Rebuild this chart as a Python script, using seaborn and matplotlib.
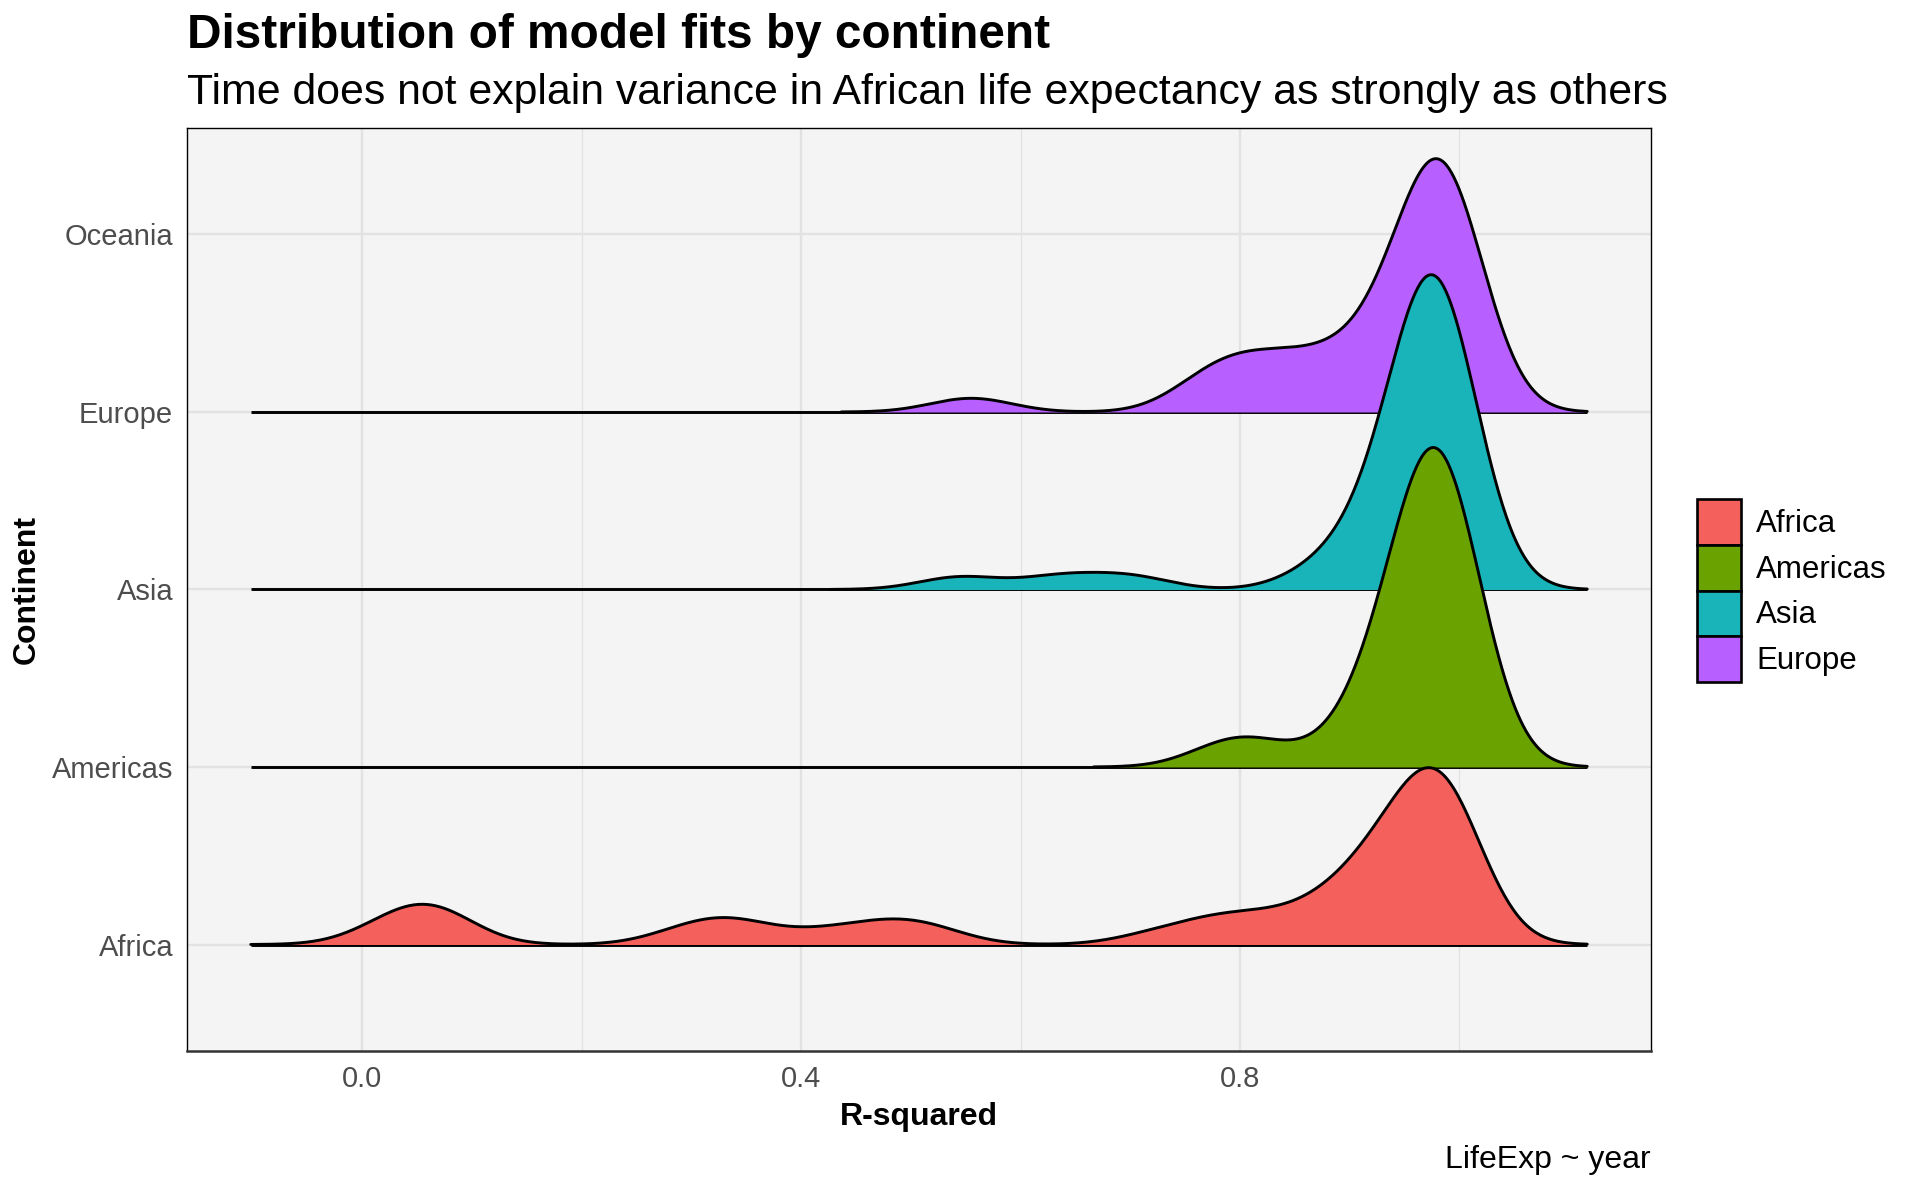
import numpy as np
import pandas as pd
import matplotlib
matplotlib.use("Agg")
import matplotlib.pyplot as plt
from matplotlib.patches import Patch
import seaborn as sns

### 0. Data: R-squared of lifeExp ~ year, one value per country

africa = [0.017, 0.034, 0.056, 0.060, 0.068, 0.085,
          0.290, 0.315, 0.340, 0.350, 0.410, 0.450, 0.480, 0.500, 0.525,
          0.720, 0.760, 0.780, 0.800, 0.820, 0.845, 0.865, 0.880, 0.895, 0.905, 0.910, 0.920,
          0.925, 0.928, 0.935, 0.945, 0.950, 0.955, 0.960, 0.963, 0.966,
          0.972, 0.975, 0.977, 0.979, 0.981, 0.983, 0.985, 0.987, 0.989, 0.991,
          0.993, 0.994, 0.995, 0.996, 0.997, 0.998]
americas = [0.785, 0.820,
            0.900, 0.920, 0.935, 0.945, 0.952, 0.958, 0.963, 0.967, 0.970, 0.973,
            0.976, 0.978, 0.980, 0.982, 0.984, 0.986, 0.988, 0.990, 0.992, 0.994,
            0.995, 0.997, 0.998]
asia = [0.545, 0.636, 0.700, 0.870, 0.900,
        0.915, 0.930, 0.942, 0.950, 0.955, 0.960, 0.966, 0.968, 0.970, 0.971,
        0.972, 0.973, 0.974, 0.975, 0.976, 0.977, 0.978, 0.979, 0.980, 0.982,
        0.984, 0.986, 0.988, 0.990, 0.992, 0.994, 0.996, 0.998]
europe = [0.555,
          0.765, 0.780, 0.800, 0.820, 0.840, 0.860, 0.880, 0.900, 0.920,
          0.930, 0.945, 0.955, 0.962, 0.968, 0.972, 0.975, 0.978, 0.980, 0.982,
          0.984, 0.986, 0.988, 0.990, 0.992, 0.993, 0.994, 0.995, 0.997, 0.998]

continents = ["Africa", "Americas", "Asia", "Europe", "Oceania"]   # y axis levels
ridge_names = ["Africa", "Americas", "Asia", "Europe"]              # Oceania has no ridge
ridge_colours = ["#F4605C", "#6AA300", "#18B4B9", "#B760FF"]
x_ticks = [0.0, 0.4, 0.8]
x_tick_labels = ["0.0", "0.4", "0.8"]
x_minor = [0.2, 0.6, 1.0]

fits = pd.concat([pd.DataFrame({"continent": n, "r_squared": v})
                  for n, v in zip(ridge_names, [africa, americas, asia, europe])],
                 ignore_index=True)

# joint bandwidth for all ridges, like ggridges
bw = 0.037
cut = 3.2
ridge_scale = 1.8
line_w = 2.1

### 1. Figure and panel

sns.set_style("white")
plt.rcParams["font.family"] = ["Liberation Sans", "DejaVu Sans"]
plt.rcParams["text.color"] = "black"
plt.rcParams["axes.labelcolor"] = "black"

W, H = 1920, 1190
fig = plt.figure(figsize=(W / 100, H / 100), dpi=100)
p_left, p_right, p_top, p_bottom = 187, 1651, 128, 1051
ax_rect = [p_left / W, 1 - p_bottom / H, (p_right - p_left) / W, (p_bottom - p_top) / H]
ax = fig.add_axes(ax_rect)

xlim = (-0.1595, 1.1745)
ylim = (0.4, 5.6)
ax.set_facecolor("#F4F4F4")
ax.set_xlim(xlim)
ax.set_ylim(ylim)
ax.set_xticks(x_ticks)
ax.set_xticklabels(x_tick_labels)
ax.set_xticks(x_minor, minor=True)
ax.set_yticks(range(1, len(continents) + 1))
ax.set_yticklabels(continents)
ax.grid(which="major", color="#E2E2E2", linewidth=1.7)
ax.grid(which="minor", axis="x", color="#E2E2E2", linewidth=0.9)
ax.set_axisbelow(True)
ax.tick_params(which="major", length=5, width=1.1, color="#333333",
               labelcolor="#4D4D4D", labelsize=21, pad=5)
ax.tick_params(which="minor", length=0)
for s in ax.spines.values():
    s.set_color("black")
    s.set_linewidth(1.0)
ax.spines["bottom"].set_linewidth(1.8)
ax.spines["bottom"].set_color("#333333")

# baseline of every ridge over the joint range
lo = fits["r_squared"].min() - cut * bw
hi = fits["r_squared"].max() + cut * bw
for name in ridge_names:
    row = continents.index(name) + 1
    ax.plot([lo, hi], [row, row], color="black", linewidth=line_w, solid_capstyle="butt")

### 2. Ridges: one transparent axes per continent, top ridge first

def fig_y(row):
    return ax_rect[1] + (row - ylim[0]) / (ylim[1] - ylim[0]) * ax_rect[3]

ridge_axes = {}
for name, colour in reversed(list(zip(ridge_names, ridge_colours))):
    row = continents.index(name) + 1
    vals = fits.loc[fits["continent"] == name, "r_squared"].to_numpy()
    bottom = fig_y(row - 0.1)
    rax = fig.add_axes([ax_rect[0], bottom, ax_rect[2], ax_rect[1] + ax_rect[3] - bottom])
    rax.patch.set_alpha(0)
    factor = bw / np.std(vals, ddof=1)
    sns.kdeplot(x=vals, bw_method=factor, cut=cut, gridsize=600, fill=True,
                color=colour, alpha=1, linewidth=0, ax=rax)
    sns.kdeplot(x=vals, bw_method=factor, cut=cut, gridsize=600,
                color="black", linewidth=line_w, ax=rax)
    rax.set_axis_off()
    ridge_axes[name] = (rax, row)

peak = max(rax.lines[-1].get_ydata().max() for rax, _ in ridge_axes.values())
per_row = peak / ridge_scale
for rax, row in ridge_axes.values():
    rax.set_xlim(xlim)
    rax.set_ylim(-0.1 * per_row, (ylim[1] - row) * per_row)

### 3. Legend and texts

handles = [Patch(facecolor=c, edgecolor="black", linewidth=1.9, label=n)
           for n, c in zip(ridge_names, ridge_colours)]
fig.legend(handles=handles, loc="center left", bbox_to_anchor=(1697 / W, 1 - 590.5 / H),
           frameon=False, fontsize=22.5, handlelength=1.4, handleheight=1.87,
           labelspacing=0, handletextpad=0.5, borderpad=0, borderaxespad=0)

fig.text(p_left / W, 1 - 48 / H, "Distribution of model fits by continent",
         fontsize=34.4, fontweight="bold", ha="left", va="baseline")
fig.text(p_left / W, 1 - 104 / H,
         "Time does not explain variance in African life expectancy as strongly as others",
         fontsize=30.8, ha="left", va="baseline")
fig.text((p_left + p_right) / 2 / W, 1 - 1125 / H, "R-squared",
         fontsize=23, fontweight="bold", ha="center", va="baseline")
fig.text(27 / W, 1 - 590 / H, "Continent", fontsize=23, fontweight="bold",
         rotation=90, ha="center", va="center")
fig.text(p_right / W, 1 - 1168 / H, "LifeExp ~ year", fontsize=23, ha="right", va="baseline")

fig.savefig("out.png", dpi=100)
